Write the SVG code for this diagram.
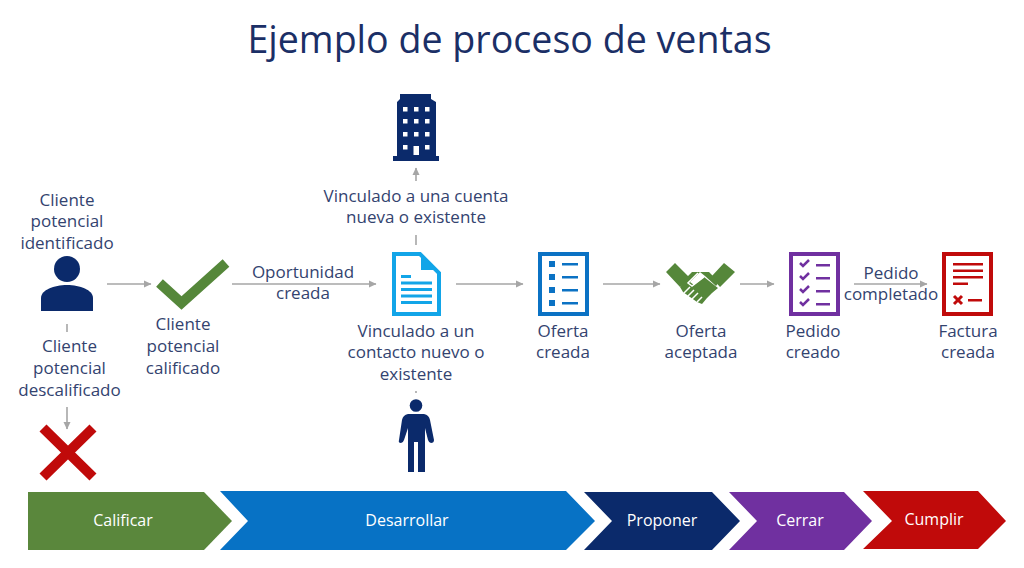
<svg xmlns="http://www.w3.org/2000/svg" width="1024" height="568" viewBox="0 0 1024 568">
<defs>
<marker id="ah" markerUnits="userSpaceOnUse" markerWidth="8" markerHeight="8" refX="7" refY="4" orient="auto"><path d="M0,0.5 L7.5,4 L0,7.5 Z" fill="#a6a6a6"/></marker>
</defs>
<style>
text{font-family:"Open Sans","Liberation Sans",sans-serif;text-anchor:middle}
.l{font-size:17px;fill:#33436f}
.s{font-size:16px;fill:#fff}
.c{fill:none;stroke:#a6a6a6;stroke-width:1.6}
.a{marker-end:url(#ah)}
</style>
<rect width="1024" height="568" fill="#fff"/>
<text x="509.500" y="53" font-size="37.600" fill="#1b2f66" id="title">Ejemplo de proceso de ventas</text>
<g id="connectors">
<path class="c a" d="M107 284H151"/>
<path class="c a" d="M232 284H376"/>
<path class="c a" d="M456 284H523"/>
<path class="c a" d="M603 284H660"/>
<path class="c a" d="M740 284H774"/>
<path class="c a" d="M854 284H927"/>
<path class="c a" d="M416 181V168"/>
<path class="c" d="M416 235V245"/>
<path class="c" d="M67 324V332"/>
<path class="c a" d="M67 407V429"/>
<path class="c" d="M416 391V393"/>
</g>
<g id="lead-identified">
<text class="l"><tspan x="67" y="206">Cliente</tspan><tspan x="67" y="227">potencial</tspan><tspan x="67" y="249">identificado</tspan></text>
<circle cx="67" cy="269" r="13" fill="#0b2a6b"/>
<path d="M41 311V298C41 290 54 285 67 285S93 290 93 298V311Z" fill="#0b2a6b"/>
</g>
<g id="lead-disqualified">
<text class="l"><tspan x="69.500" y="352">Cliente</tspan><tspan x="69.500" y="374">potencial</tspan><tspan x="69.500" y="396">descalificado</tspan></text>
<path d="M43 428L93 477M93 428L43 477" fill="none" stroke="#c00a0a" stroke-width="10"/>
</g>
<g id="lead-qualified">
<path d="M159.500 283L181.500 303L226 263" fill="none" stroke="#55873a" stroke-width="10"/>
<text class="l"><tspan x="183" y="330">Cliente</tspan><tspan x="183" y="352">potencial</tspan><tspan x="183" y="374">calificado</tspan></text>
</g>
<g id="opportunity-label"><text class="l"><tspan x="303" y="278">Oportunidad</tspan><tspan x="303" y="299">creada</tspan></text></g>
<g id="account">
<path fill="#0b2a6b" d="M397 156V102L400 99V94H431V99L436 102V156H439V161H393V156Z"/>
<path fill="#fff" d="M403 107h4.500v4.500h-4.500zM414 107h4.500v4.500h-4.500zM425 107h4.500v4.500h-4.500zM403 119h4.500v4.500h-4.500zM414 119h4.500v4.500h-4.500zM425 119h4.500v4.500h-4.500zM403 132h4.500v4.500h-4.500zM414 132h4.500v4.500h-4.500zM425 132h4.500v4.500h-4.500zM403 145h4.500v4.500h-4.500zM425 145h4.500v4.500h-4.500zM413.500 146h5.500v9h-5.500z"/>
<text class="l"><tspan x="416" y="202">Vinculado a una cuenta</tspan><tspan x="416" y="223">nueva o existente</tspan></text>
</g>
<g id="opportunity">
<path d="M394 254H420L439 273V314H394Z" fill="#fff" stroke="#12a5e8" stroke-width="4"/>
<path d="M421 255V270H437Z" fill="#12a5e8"/>
<path d="M401 275h10v3h-10zM401 281.500h31v3h-31zM401 288h31v3h-31zM401 294.500h31v3h-31zM401 301h31v3h-31z" fill="#12a5e8"/>
<text class="l"><tspan x="416" y="337">Vinculado a un</tspan><tspan x="416" y="358">contacto nuevo o</tspan><tspan x="416" y="380">existente</tspan></text>
</g>
<g id="contact">
<circle cx="416" cy="405.500" r="6.300" fill="#0b2a6b"/>
<path fill="#0b2a6b" d="M408 414H424Q429 415 430 420L434 440Q434 443 431 443Q429 443 428 440L425 428V472H418V442H414V472H408V428L404 440Q403 443 401 443Q398 443 399 440L402 420Q403 415 408 414Z"/>
</g>
<g id="quote">
<rect x="540" y="254" width="47" height="60" fill="#fff" stroke="#0b72c4" stroke-width="4"/>
<path fill="#0b72c4" d="M549 261h6v6h-6zM549 274h6v6h-6zM549 287h6v6h-6zM549 300h6v6h-6zM562 263h16v2.500h-16zM562 276h16v2.500h-16zM562 289h16v2.500h-16zM562 302h16v2.500h-16z"/>
<text class="l"><tspan x="563" y="337">Oferta</tspan><tspan x="563" y="358">creada</tspan></text>
</g>
<g id="quote-accepted">
<path fill="#55873a" d="M666 272L675 263L689 277L680 287Z M735 272L724 263L711 277L720 287Z"/>
<path fill="#55873a" d="M680 287L685 279L692 272H700L690 282L694 285L704 277L718 288L712 293L707 298L702 304L697 302L683 292Z"/>
<path fill="#55873a" d="M700 272H709L719 282L716 286L705 276Z"/>
<path fill="none" stroke="#fff" stroke-width="1.500" d="M684 293L690 287M688 296L694 290M692 299L698 293M697 302L702 297M704 277L692 286L688 283L698 273"/>
<text class="l"><tspan x="701" y="337">Oferta</tspan><tspan x="701" y="358">aceptada</tspan></text>
</g>
<g id="order">
<rect x="791" y="254" width="47" height="60" fill="#fff" stroke="#7030a0" stroke-width="4"/>
<path fill="none" stroke="#7030a0" stroke-width="2.500" d="M800 263l3 3l6-6M800 276l3 3l6-6M800 289l3 3l6-6M800 302l3 3l6-6"/>
<path fill="#7030a0" d="M816 264h14v2.500h-14zM816 277h14v2.500h-14zM816 290h14v2.500h-14zM816 303h14v2.500h-14z"/>
<text class="l"><tspan x="813" y="337">Pedido</tspan><tspan x="813" y="358">creado</tspan></text>
</g>
<g id="order-completed-label"><text class="l"><tspan x="891" y="279">Pedido</tspan><tspan x="891" y="300">completado</tspan></text></g>
<g id="invoice">
<rect x="944" y="254" width="47" height="60" fill="#fff" stroke="#c00a0a" stroke-width="4"/>
<path fill="#c00a0a" d="M953 263h30v2.500h-30zM953 269.500h30v2.500h-30zM953 276h30v2.500h-30zM953 282.500h15v2.500h-15zM968 299h14v2.500h-14z"/>
<path stroke="#c00a0a" stroke-width="3" fill="none" d="M954 296l8 8M962 296l-8 8"/>
<text class="l"><tspan x="968" y="337">Factura</tspan><tspan x="968" y="358">creada</tspan></text>
</g>
<g id="stage-calificar"><path fill="#5a873c" d="M28 492H204L232 521L204 550H28Z"/><text class="s" x="123" y="526">Calificar</text></g>
<g id="stage-desarrollar"><path fill="#0772c5" d="M220 491H566L595 521L566 550H220L248 521Z"/><text class="s" x="407" y="526">Desarrollar</text></g>
<g id="stage-proponer"><path fill="#0b2a6b" d="M584 492H712L740 521L712 550H584L612 521Z"/><text class="s" x="662" y="526">Proponer</text></g>
<g id="stage-cerrar"><path fill="#7030a0" d="M729 492H844L872 521L844 550H729L757 521Z"/><text class="s" x="800" y="526">Cerrar</text></g>
<g id="stage-cumplir"><path fill="#c00a0a" d="M863 491H978L1006 521L978 549H863L892 521Z"/><text class="s" x="934" y="525">Cumplir</text></g>
</svg>
